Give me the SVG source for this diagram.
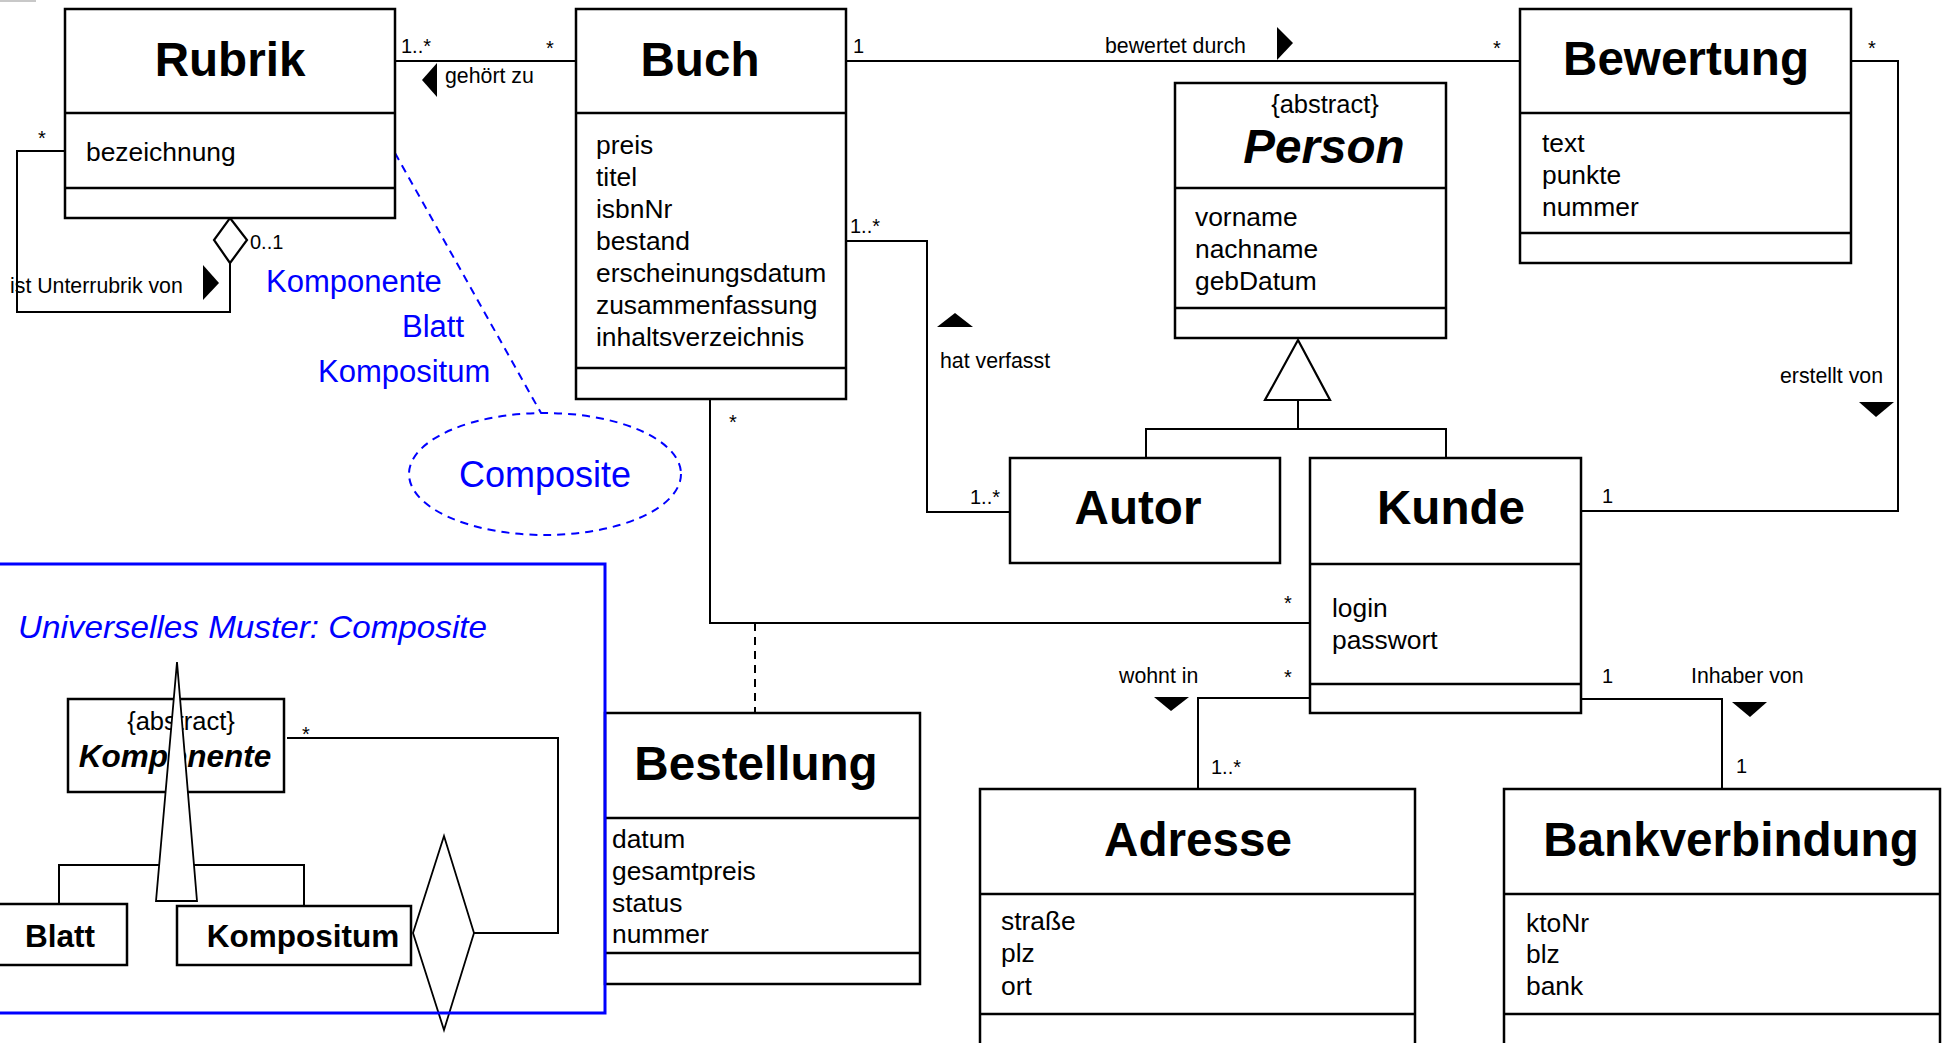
<svg xmlns="http://www.w3.org/2000/svg" width="1942" height="1043" viewBox="0 0 1942 1043">
  <style>
    text { font-family: "Liberation Sans", Arial, sans-serif; fill: #000; }
    .box { fill: #fff; stroke: #000; stroke-width: 2.5; }
    .sep { stroke: #000; stroke-width: 2.5; }
    .conn { fill: none; stroke: #000; stroke-width: 2; }
    .head { fill: #fff; stroke: #000; stroke-width: 2.2; }
    .dir { fill: #000; stroke: none; }
    .title { font-size: 47.6px; font-weight: bold; text-anchor: middle; }
    .attr { font-size: 26.4px; }
    .stereo { font-size: 25.5px; text-anchor: middle; }
    .lbl { font-size: 21.3px; }
    .mult { font-size: 20px; }
    .note { fill: #0000ff; }
    .note-line { fill: none; stroke: #0000ff; stroke-width: 2; stroke-dasharray: 8 6; }
    .ptitle { font-size: 31.5px; font-weight: bold; text-anchor: middle; }
  </style>

  <rect x="0" y="0" width="36" height="2" fill="#c8c8c8"/>

  <!-- associations -->
  <g id="connectors">
    <!-- Rubrik - Buch : gehoert zu -->
    <line class="conn" x1="395" y1="61" x2="576" y2="61"/>
    <polygon class="dir" points="422,80 437,63 437,97"/>
    <text class="lbl" x="445" y="83">gehört zu</text>
    <text class="mult" x="401" y="53">1..*</text>
    <text class="mult" x="546" y="55">*</text>

    <!-- Rubrik self aggregation -->
    <polyline class="conn" points="65,151 17,151 17,312 230,312 230,263"/>
    <polygon class="head" points="230,218 247,240 230,263 214,240"/>
    <polygon class="dir" points="203,265 219,283 203,300"/>
    <text class="lbl" x="10" y="293">ist Unterrubrik von</text>
    <text class="mult" x="250" y="249">0..1</text>
    <text class="mult" x="38" y="145">*</text>

    <!-- Buch - Bewertung : bewertet durch -->
    <line class="conn" x1="846" y1="61" x2="1520" y2="61"/>
    <polygon class="dir" points="1277,27 1293,43 1277,60"/>
    <text class="lbl" x="1105" y="53">bewertet durch</text>
    <text class="mult" x="853" y="53">1</text>
    <text class="mult" x="1493" y="55">*</text>

    <!-- Bewertung - Kunde : erstellt von -->
    <polyline class="conn" points="1851,61 1898,61 1898,511 1581,511"/>
    <polygon class="dir" points="1859,402 1894,402 1876,417"/>
    <text class="lbl" x="1780" y="383">erstellt von</text>
    <text class="mult" x="1868" y="55">*</text>
    <text class="mult" x="1602" y="503">1</text>

    <!-- Buch - Autor : hat verfasst -->
    <polyline class="conn" points="846,241 927,241 927,512 1010,512"/>
    <polygon class="dir" points="955,313 973,327 937,327"/>
    <text class="lbl" x="940" y="368">hat verfasst</text>
    <text class="mult" x="850" y="233">1..*</text>
    <text class="mult" x="970" y="504">1..*</text>

    <!-- Buch - Kunde with association class Bestellung -->
    <polyline class="conn" points="710,399 710,623 1310,623"/>
    <line class="conn" x1="755" y1="623" x2="755" y2="713" stroke-dasharray="8 6"/>
    <text class="mult" x="729" y="429">*</text>
    <text class="mult" x="1284" y="610">*</text>

    <!-- Kunde - Adresse : wohnt in -->
    <polyline class="conn" points="1310,698 1198,698 1198,789"/>
    <polygon class="dir" points="1154,697 1189,697 1171,711"/>
    <text class="lbl" x="1119" y="683">wohnt in</text>
    <text class="mult" x="1284" y="684">*</text>
    <text class="mult" x="1211" y="774">1..*</text>

    <!-- Kunde - Bankverbindung : Inhaber von -->
    <polyline class="conn" points="1581,699 1722,699 1722,789"/>
    <polygon class="dir" points="1732,702 1767,702 1750,717"/>
    <text class="lbl" x="1691" y="683">Inhaber von</text>
    <text class="mult" x="1602" y="683">1</text>
    <text class="mult" x="1736" y="773">1</text>

    <!-- generalization Person <- Autor, Kunde -->
    <polyline class="conn" points="1146,458 1146,429 1446,429 1446,458"/>
    <line class="conn" x1="1298" y1="400" x2="1298" y2="429"/>
    <polygon class="head" points="1298,340 1330,400 1265,400"/>

    <!-- pattern annotation -->
    <line class="note-line" x1="395" y1="153" x2="541" y2="413"/>
  </g>

  <g id="rubrik">
    <rect class="box" x="65" y="9" width="330" height="209"/>
    <line class="sep" x1="65" y1="113" x2="395" y2="113"/>
    <line class="sep" x1="65" y1="188" x2="395" y2="188"/>
    <text class="title" x="230" y="76">Rubrik</text>
    <text class="attr" x="86" y="161">bezeichnung</text>
  </g>

  <g id="buch">
    <rect class="box" x="576" y="9" width="270" height="390"/>
    <line class="sep" x1="576" y1="113" x2="846" y2="113"/>
    <line class="sep" x1="576" y1="368" x2="846" y2="368"/>
    <text class="title" x="700" y="76">Buch</text>
    <text class="attr" x="596" y="154">preis</text>
    <text class="attr" x="596" y="186">titel</text>
    <text class="attr" x="596" y="218">isbnNr</text>
    <text class="attr" x="596" y="250">bestand</text>
    <text class="attr" x="596" y="282">erscheinungsdatum</text>
    <text class="attr" x="596" y="314">zusammenfassung</text>
    <text class="attr" x="596" y="346">inhaltsverzeichnis</text>
  </g>

  <g id="bewertung">
    <rect class="box" x="1520" y="9" width="331" height="254"/>
    <line class="sep" x1="1520" y1="113" x2="1851" y2="113"/>
    <line class="sep" x1="1520" y1="233" x2="1851" y2="233"/>
    <text class="title" x="1686" y="75">Bewertung</text>
    <text class="attr" x="1542" y="152">text</text>
    <text class="attr" x="1542" y="184">punkte</text>
    <text class="attr" x="1542" y="216">nummer</text>
  </g>

  <g id="person">
    <rect class="box" x="1175" y="83" width="271" height="255"/>
    <line class="sep" x1="1175" y1="188" x2="1446" y2="188"/>
    <line class="sep" x1="1175" y1="308" x2="1446" y2="308"/>
    <text class="stereo" x="1325" y="113">{abstract}</text>
    <text class="title" x="1324" y="163" font-style="italic">Person</text>
    <text class="attr" x="1195" y="226">vorname</text>
    <text class="attr" x="1195" y="258">nachname</text>
    <text class="attr" x="1195" y="290">gebDatum</text>
  </g>

  <g id="autor">
    <rect class="box" x="1010" y="458" width="270" height="105"/>
    <text class="title" x="1138" y="524">Autor</text>
  </g>

  <g id="kunde">
    <rect class="box" x="1310" y="458" width="271" height="255"/>
    <line class="sep" x1="1310" y1="564" x2="1581" y2="564"/>
    <line class="sep" x1="1310" y1="684" x2="1581" y2="684"/>
    <text class="title" x="1451" y="524">Kunde</text>
    <text class="attr" x="1332" y="617">login</text>
    <text class="attr" x="1332" y="649">passwort</text>
  </g>

  <g id="bestellung">
    <rect class="box" x="605" y="713" width="315" height="271"/>
    <line class="sep" x1="605" y1="818" x2="920" y2="818"/>
    <line class="sep" x1="605" y1="953" x2="920" y2="953"/>
    <text class="title" x="756" y="780">Bestellung</text>
    <text class="attr" x="612" y="848">datum</text>
    <text class="attr" x="612" y="880">gesamtpreis</text>
    <text class="attr" x="612" y="912">status</text>
    <text class="attr" x="612" y="943">nummer</text>
  </g>

  <g id="adresse">
    <rect class="box" x="980" y="789" width="435" height="270"/>
    <line class="sep" x1="980" y1="894" x2="1415" y2="894"/>
    <line class="sep" x1="980" y1="1014" x2="1415" y2="1014"/>
    <text class="title" x="1198" y="856">Adresse</text>
    <text class="attr" x="1001" y="930">straße</text>
    <text class="attr" x="1001" y="962">plz</text>
    <text class="attr" x="1001" y="995">ort</text>
  </g>

  <g id="bankverbindung">
    <rect class="box" x="1504" y="789" width="436" height="270"/>
    <line class="sep" x1="1504" y1="894" x2="1940" y2="894"/>
    <line class="sep" x1="1504" y1="1014" x2="1940" y2="1014"/>
    <text class="title" x="1731" y="856">Bankverbindung</text>
    <text class="attr" x="1526" y="932">ktoNr</text>
    <text class="attr" x="1526" y="963">blz</text>
    <text class="attr" x="1526" y="995">bank</text>
  </g>

  <!-- pattern note: roles and the Composite ellipse -->
  <g id="composite-note">
    <text class="note" x="266" y="292" font-size="31">Komponente</text>
    <text class="note" x="402" y="337" font-size="31">Blatt</text>
    <text class="note" x="318" y="382" font-size="31">Kompositum</text>
    <ellipse class="note-line" cx="545" cy="474" rx="136" ry="61"/>
    <text class="note" x="545" y="487" font-size="36" text-anchor="middle">Composite</text>
  </g>

  <!-- generic pattern panel -->
  <g id="pattern-panel">
    <text class="note" x="18" y="638" font-size="32" font-style="italic" font-family="'Comic Sans MS', 'DejaVu Sans', sans-serif" textLength="469" lengthAdjust="spacingAndGlyphs">Universelles Muster: Composite</text>

    <g id="komponente">
      <rect class="box" x="68" y="699" width="216" height="93"/>
      <text class="stereo" x="181" y="730">{abstract}</text>
      <text class="ptitle" x="175" y="767" font-style="italic">Komponente</text>
    </g>

    <polyline class="conn" points="59,904 59,865 304,865 304,906"/>
    <polygon fill="#fff" stroke="#000" stroke-width="1.8" points="177,662 197,901 156,901"/>

    <g id="blatt">
      <rect class="box" x="-3" y="904" width="130" height="61"/>
      <text class="ptitle" x="60" y="947">Blatt</text>
    </g>

    <g id="kompositum">
      <rect class="box" x="177" y="906" width="234" height="59"/>
      <text class="ptitle" x="303" y="947">Kompositum</text>
    </g>

    <polyline class="conn" points="474,933 558,933 558,738 287,738"/>
    <polygon fill="#fff" stroke="#000" stroke-width="1.8" points="444,836 474,933 444,1030 413,933"/>
    <text class="mult" x="302" y="741" font-size="22">*</text>

    <rect x="-3" y="564" width="608" height="449" fill="none" stroke="#0000ff" stroke-width="3"/>
  </g>
</svg>
